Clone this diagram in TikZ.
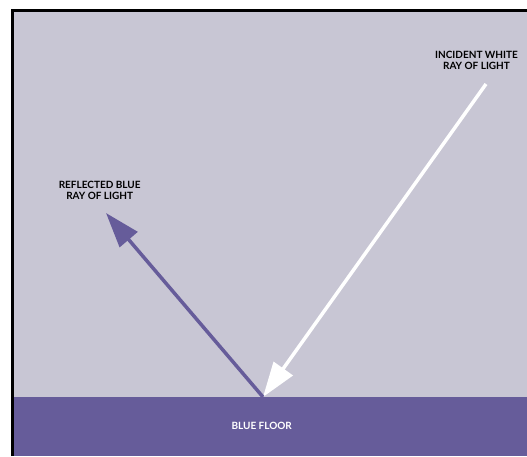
\documentclass[tikz,border=0pt]{standalone}
\usepackage{fontspec}
\setmainfont{Lato}
\usetikzlibrary{arrows.meta, positioning}
\definecolor{wallgray}{HTML}{C8C6D4}
\definecolor{floorblue}{HTML}{665C9A}
\tikzstyle{caption} = [font=\bfseries\fontsize{10}{11.7}\selectfont, align=center, inner sep=0pt]
\tikzstyle{ray} = [line width=3.5pt, -{Triangle[length=35pt, width=23pt]}]

\begin{document}
\begin{tikzpicture}[x=1pt, y=-1pt]
  \useasboundingbox (0,0) rectangle (527,456);
  \fill[white] (0,0) rectangle (527,456);
  \fill[wallgray] (12,10.5) rectangle (527,397);
  \fill[floorblue] (12,397) rectangle (527,456);
  \draw[line width=3pt] (12.5,456) -- (12.5,10.5) -- (527,10.5);

  \coordinate (hit) at (263,397);
  \coordinate (source) at (486,84);
  \coordinate (bluetip) at (106,213);

  \node[caption] (incident) at (476.5,60.5) {INCIDENT WHITE\\RAY OF LIGHT};
  \node[caption] (reflected) at (99.7,190.5) {REFLECTED BLUE\\RAY OF LIGHT};
  \node[caption, text=white] (floor) at (261.7,426) {BLUE FLOOR};

  \draw[ray, white] (source) -- (hit);
  \draw[ray, floorblue] (hit) -- (bluetip);
\end{tikzpicture}
\end{document}
